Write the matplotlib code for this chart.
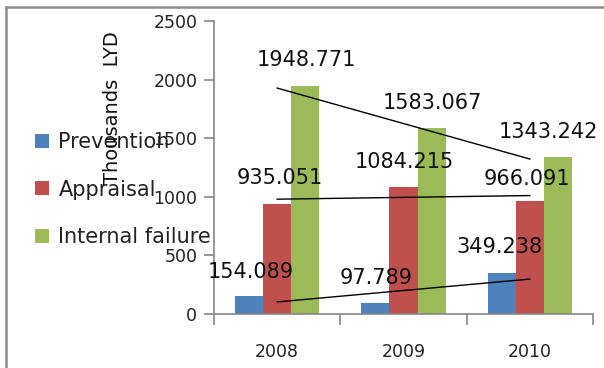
import numpy as np
import matplotlib
matplotlib.use("Agg")
import matplotlib.pyplot as plt
from matplotlib.lines import Line2D

years = ["2008", "2009", "2010"]
series_names = ["Prevention", "Appraisal", "Internal failure"]
prevention = [154.089, 97.789, 349.238]
appraisal = [935.051, 1084.215, 966.091]
internal_failure = [1948.771, 1583.067, 1343.242]
y_ticks = [0, 500, 1000, 1500, 2000, 2500]

colors = ["#4F81BD", "#C0504D", "#9BBB59"]

# where each value label sits (category units, axis units), hand-placed like the original sheet
label_pos = [
    [(-0.21, 360), (0.78, 308), (1.76, 574)],
    [(0.02, 1164), (1.01, 1293), (1.98, 1156)],
    [(0.23, 2166), (1.23, 1798), (2.15, 1550)],
]


def main():
    fig = plt.figure(figsize=(6.04, 3.68), dpi=100)
    ax = fig.add_axes([214 / 604, 1 - 314 / 368, 379 / 604, 293 / 368])

    values = [prevention, appraisal, internal_failure]
    x = np.arange(len(years))
    w = 1 / 4.5
    for i, (name, vals) in enumerate(zip(series_names, values)):
        ax.bar(x + (i - 1) * w, vals, w, color=colors[i], label=name, zorder=2)

    # linear trendlines through the category centres
    for vals in values:
        k, b = np.polyfit(x, vals, 1)
        ax.plot(x, k * x + b, color="black", lw=1.0, zorder=3)

    for vals, pos in zip(values, label_pos):
        for v, (px, py) in zip(vals, pos):
            ax.text(px, py, f"{v:.3f}", ha="center", va="center",
                    fontsize=15, color="#111111", zorder=4)

    ax.set_xlim(-0.5, 2.5)
    ax.set_ylim(0, 2500)
    ax.set_yticks(y_ticks)
    ax.set_xticks(x)
    ax.set_xticklabels(years)
    ax.set_xticks([-0.5, 0.5, 1.5, 2.5], minor=True)
    ax.tick_params(axis="x", which="major", length=0, pad=21, labelsize=12.5,
                   labelcolor="#222222")
    ax.tick_params(axis="x", which="minor", length=8, width=1.2, color="#868686")
    ax.tick_params(axis="y", length=7, width=1.2, color="#868686", pad=5,
                   labelsize=12.5, labelcolor="#222222")
    for side in ["top", "right"]:
        ax.spines[side].set_visible(False)
    for side in ["left", "bottom"]:
        ax.spines[side].set_color("#868686")
        ax.spines[side].set_linewidth(1.2)

    fig.text(113 / 604, 1 - 108 / 368, "Thousands  LYD", rotation=90,
             ha="center", va="center", fontsize=14, color="#111111")

    ax.legend(loc="upper left", bbox_to_anchor=(35 / 604, 1 - 132 / 368),
              bbox_transform=fig.transFigure, frameon=False, fontsize=15,
              handlelength=0.67, handleheight=0.67, handletextpad=0.45,
              labelspacing=1.32, borderpad=0, borderaxespad=0,
              labelcolor="#222222")

    # outer chart frame (only top and left edges fall inside the image)
    fig.add_artist(Line2D([6 / 604, 1.0], [1 - 7 / 368, 1 - 7 / 368],
                          transform=fig.transFigure, color="#8c8c8c", lw=1.8))
    fig.add_artist(Line2D([6 / 604, 6 / 604], [1 - 7 / 368, 0.0],
                          transform=fig.transFigure, color="#8c8c8c", lw=1.8))

    fig.savefig("out.png", dpi=100)


if __name__ == "__main__":
    main()
